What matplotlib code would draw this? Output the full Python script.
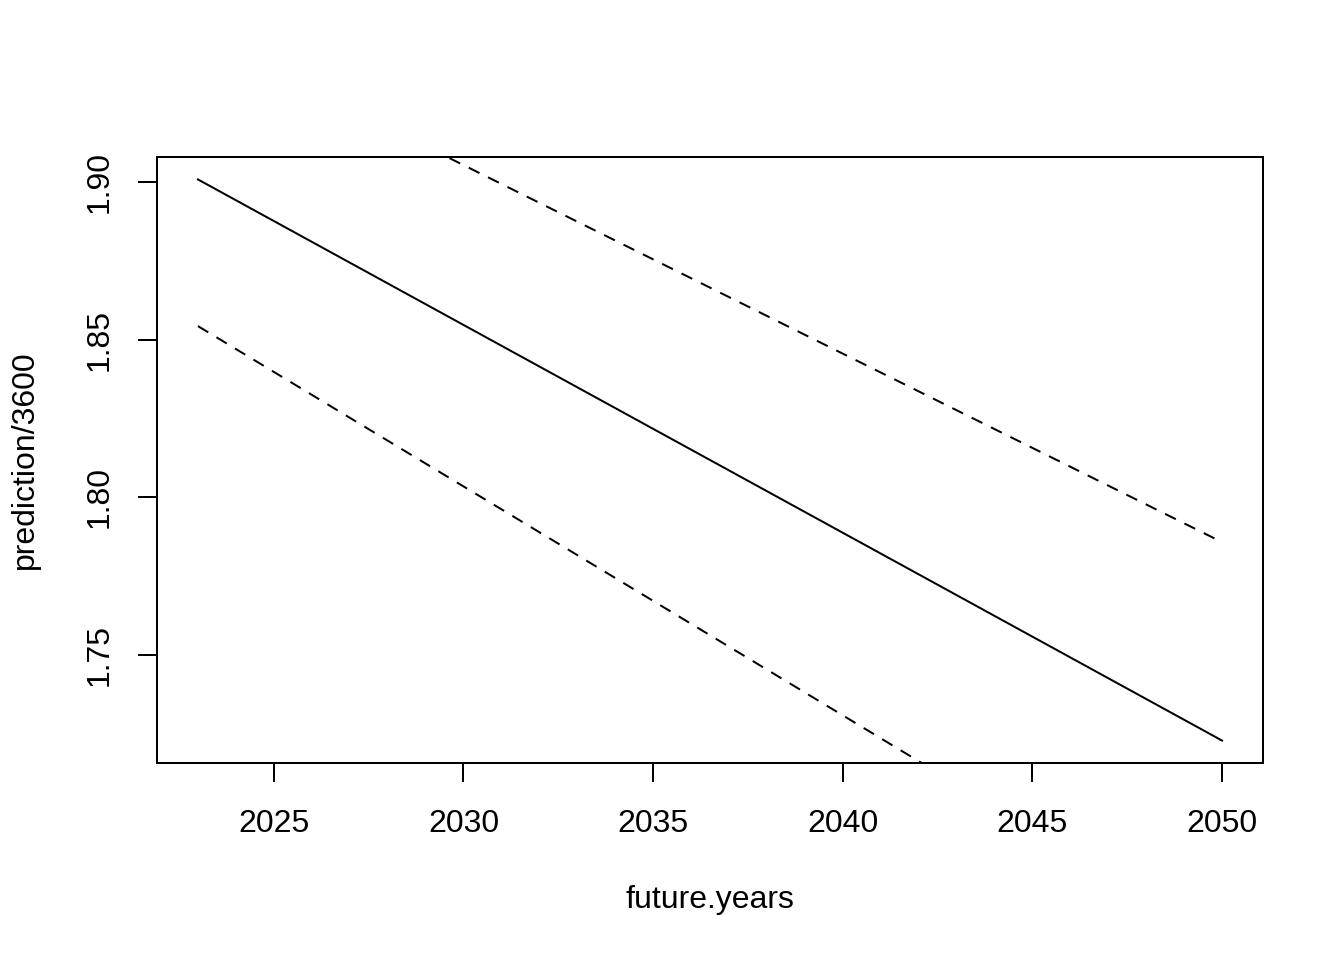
import matplotlib
matplotlib.use("Agg")
import matplotlib.pyplot as plt

# prediction in hours (prediction/3600) and its interval bounds
future_years = [2023, 2050]
prediction = [1.9008, 1.7229]
upper = [1.9472, 1.7858]
lower = [1.8543, 1.6583]

xticks = [2025, 2030, 2035, 2040, 2045, 2050]
yticks = [1.75, 1.80, 1.85, 1.90]

plt.rcParams['font.family'] = ['Liberation Sans', 'DejaVu Sans']

fig = plt.figure(figsize=(13.44, 9.6), dpi=100)
ax = fig.add_axes([157/1344, 1 - 763/960, (1263 - 157)/1344, (763 - 157)/960])

lw = 1.44
dash = (0, (6, 4.8))
ax.plot(future_years, prediction, color='black', lw=lw)
ax.plot(future_years, upper, color='black', lw=lw, linestyle=dash)
ax.plot(future_years, lower, color='black', lw=lw, linestyle=dash)

# R style 4% axis expansion
span = future_years[-1] - future_years[0]
ax.set_xlim(future_years[0] - 0.04 * span, future_years[-1] + 0.04 * span)
yspan = max(prediction) - min(prediction)
ax.set_ylim(min(prediction) - 0.04 * yspan, max(prediction) + 0.04 * yspan)

ax.set_xticks(xticks)
ax.set_xticklabels([str(t) for t in xticks])
ax.set_yticks(yticks)
ax.set_yticklabels(["%.2f" % t for t in yticks], rotation=90, va='center')

ax.tick_params(axis='both', direction='out', length=13.8, width=lw, labelsize=23, color='black')
ax.tick_params(axis='x', pad=19.5)
ax.tick_params(axis='y', pad=16.5)
for s in ax.spines.values():
    s.set_linewidth(lw)

fig.text(710/1344, 1 - 900/960, "future.years", ha='center', va='center', fontsize=23)
fig.text(25/1344, 1 - 460/960, "prediction/3600", ha='center', va='center', rotation=90, fontsize=23)

fig.savefig("out.png", dpi=100)
